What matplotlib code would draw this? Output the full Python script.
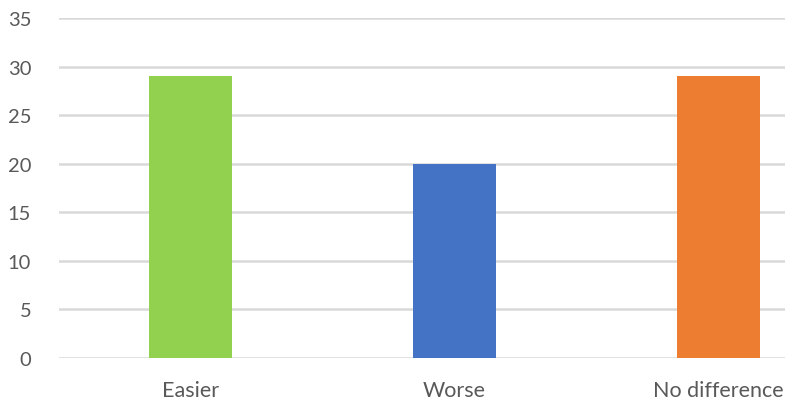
import matplotlib
matplotlib.use("Agg")
from matplotlib import pyplot as plt
import numpy as np

# survey responses
categories = ["Easier", "Worse", "No difference"]
counts = [29, 20, 29]
colors = ["#92D050", "#4472C4", "#ED7D31"]
yticks = [0, 5, 10, 15, 20, 25, 30, 35]

plt.rcParams['font.family'] = ['Lato', 'DejaVu Sans']

fig = plt.figure(figsize=(7.85, 4.02), dpi=100)
ax = fig.add_axes([59/785, 43/402, 791/785, 340/402])

x = np.arange(len(categories))
ax.bar(x, counts, width=0.315, color=colors, zorder=3)

ax.set_xlim(-0.5, 2.5)
ax.set_ylim(0, 35)
ax.set_yticks(yticks)
ax.set_xticks(x)
ax.set_xticklabels(categories)
ax.grid(axis='y', color='#d9d9d9', linewidth=1.8, zorder=0)
ax.tick_params(axis='both', length=0, colors='#595959')
ax.tick_params(axis='y', pad=20, labelsize=14.5)
ax.tick_params(axis='x', pad=16, labelsize=15.5)
for s in ax.spines.values():
    s.set_visible(False)

plt.savefig('out.png', dpi=100)
